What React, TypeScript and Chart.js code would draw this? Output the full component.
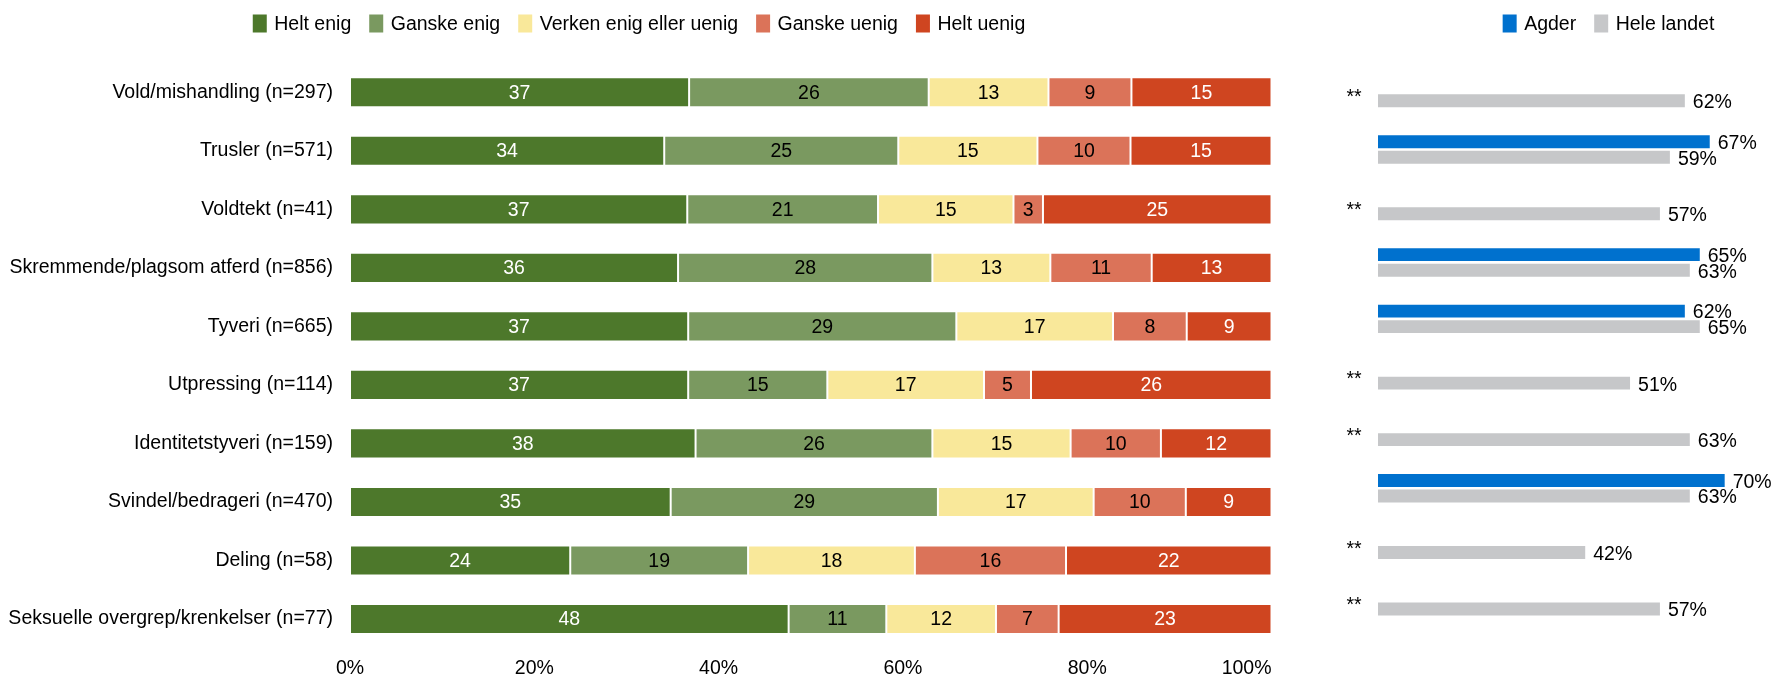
import React, { useEffect, useRef } from 'react';
import { Chart, registerables } from 'chart.js';

Chart.register(...registerables);

const FONT = '"Liberation Sans", Arial, sans-serif';
const FS = 19.5;

// ---------- data ----------
const categories = [
  'Vold/mishandling (n=297)',
  'Trusler (n=571)',
  'Voldtekt (n=41)',
  'Skremmende/plagsom atferd (n=856)',
  'Tyveri (n=665)',
  'Utpressing (n=114)',
  'Identitetstyveri (n=159)',
  'Svindel/bedrageri (n=470)',
  'Deling (n=58)',
  'Seksuelle overgrep/krenkelser (n=77)',
];

const seriesNames = ['Helt enig', 'Ganske enig', 'Verken enig eller uenig', 'Ganske uenig', 'Helt uenig'];
const heltEnig = [36.8, 34.1, 36.6, 35.6, 36.7, 36.7, 37.5, 34.8, 23.9, 47.6];
const ganskeEnig = [26.0, 25.4, 20.7, 27.6, 29.1, 15.1, 25.7, 29.0, 19.3, 10.6];
const verkenEnig = [13.0, 15.1, 14.7, 12.8, 17.0, 17.0, 15.0, 16.9, 18.1, 11.9];
const ganskeUenig = [9.0, 10.1, 3.2, 11.0, 8.0, 5.1, 9.8, 10.0, 16.4, 6.8];
const heltUenig = [15.2, 15.3, 24.8, 13.0, 9.2, 26.1, 12.0, 9.3, 22.3, 23.1];

const xTicks = [0, 20, 40, 60, 80, 100];

const compareNames = ['Agder', 'Hele landet'];
const agder = [null, 67, null, 65, 62, null, null, 70, null, null];
const heleLandet = [62, 59, 57, 63, 65, 51, 63, 63, 42, 57];
const sigMarks = ['**', '', '**', '', '', '**', '**', '', '**', '**'];

// ---------- styles ----------
const stackColors = ['#4D782B', '#7A9960', '#F9E89A', '#DB7359', '#CF4520'];
const stackTextColors = ['#FFFFFF', '#000000', '#000000', '#000000', '#FFFFFF'];
const compareColors = ['#0071CE', '#C6C7C9'];

const legendPlugin = {
  id: 'customLegend',
  afterDraw(chart: any, _args: any, opts: any) {
    const ctx = chart.ctx;
    ctx.save();
    ctx.font = `${FS}px ${FONT}`;
    const items = chart.data.datasets.map((d: any) => ({ label: d.label, color: d.backgroundColor }));
    const widths = items.map((it: any) => opts.boxW + opts.gap + ctx.measureText(it.label).width);
    const total = widths.reduce((a: number, b: number) => a + b, 0) + opts.itemGap * (items.length - 1);
    let x = opts.centerX - total / 2;
    items.forEach((it: any, i: number) => {
      ctx.fillStyle = it.color;
      ctx.fillRect(x, opts.y - opts.boxH / 2, opts.boxW, opts.boxH);
      ctx.fillStyle = '#000';
      ctx.textBaseline = 'middle';
      ctx.textAlign = 'left';
      ctx.fillText(it.label, x + opts.boxW + opts.gap, opts.y + 1);
      x += widths[i] + opts.itemGap;
    });
    ctx.restore();
  },
};

const stackLabelPlugin = {
  id: 'stackLabels',
  afterDatasetsDraw(chart: any) {
    const ctx = chart.ctx;
    ctx.save();
    ctx.font = `${FS}px ${FONT}`;
    ctx.textAlign = 'center';
    ctx.textBaseline = 'middle';
    chart.data.datasets.forEach((ds: any, di: number) => {
      const meta = chart.getDatasetMeta(di);
      meta.data.forEach((el: any, i: number) => {
        const v = ds.data[i];
        if (v == null) return;
        const p = el.getProps(['x', 'y', 'base'], true);
        ctx.fillStyle = stackTextColors[di];
        ctx.fillText(String(Math.round(v)), (p.x + p.base) / 2, p.y + 1);
      });
    });
    // x-axis tick labels, kept inside the plot's right edge
    const xs = chart.scales.x;
    ctx.fillStyle = '#000';
    xTicks.forEach((v) => {
      const label = `${v}%`;
      const w = ctx.measureText(label).width;
      let cx = xs.getPixelForValue(v);
      if (cx + w / 2 > chart.chartArea.right) cx = chart.chartArea.right - w / 2;
      ctx.fillText(label, cx, 668.5);
    });
    ctx.restore();
  },
};

const compareLabelPlugin = {
  id: 'compareLabels',
  afterDatasetsDraw(chart: any) {
    const ctx = chart.ctx;
    ctx.save();
    ctx.font = `${FS}px ${FONT}`;
    ctx.textBaseline = 'middle';
    ctx.textAlign = 'left';
    ctx.fillStyle = '#000';
    chart.data.datasets.forEach((ds: any, di: number) => {
      const meta = chart.getDatasetMeta(di);
      meta.data.forEach((el: any, i: number) => {
        const v = ds.data[i];
        if (v == null) return;
        const p = el.getProps(['x', 'y'], true);
        ctx.fillText(`${v}%`, p.x + 7, p.y + 2);
      });
    });
    const grayMeta = chart.getDatasetMeta(1);
    ctx.textBaseline = 'alphabetic';
    grayMeta.data.forEach((el: any, i: number) => {
      if (!sigMarks[i]) return;
      const p = el.getProps(['y'], true);
      ctx.fillText(sigMarks[i], 46.5, p.y + 2);
    });
    ctx.restore();
  },
};

export default function App() {
  const leftRef = useRef<HTMLCanvasElement>(null);
  const rightRef = useRef<HTMLCanvasElement>(null);

  useEffect(() => {
    Chart.defaults.font.family = FONT;
    Chart.defaults.font.size = FS;
    Chart.defaults.color = '#000';

    const stackData = [heltEnig, ganskeEnig, verkenEnig, ganskeUenig, heltUenig];
    const left = new Chart(leftRef.current as HTMLCanvasElement, {
      type: 'bar',
      data: {
        labels: categories,
        datasets: stackData.map((d, i) => ({
          label: seriesNames[i],
          data: d,
          backgroundColor: stackColors[i],
          borderColor: 'rgba(255,255,255,0.35)',
          borderWidth: 1,
          borderSkipped: false,
          barPercentage: 0.515,
          categoryPercentage: 1,
        })),
      },
      options: {
        indexAxis: 'y',
        responsive: false,
        animation: false,
        devicePixelRatio: 1,
        layout: { padding: { top: 63, right: 28.5, left: 0, bottom: 0 } },
        plugins: {
          legend: { display: false },
          tooltip: { enabled: false },
          customLegend: { centerX: 639, y: 23.5, boxW: 14, boxH: 18, gap: 7.5, itemGap: 18 },
        } as any,
        scales: {
          x: {
            stacked: true,
            min: 0,
            max: 100,
            ticks: { display: false, stepSize: 20 },
            grid: { display: false, drawTicks: false },
            border: { display: false },
            afterFit: (scale: any) => {
              scale.height = 24;
            },
          },
          y: {
            stacked: true,
            ticks: { padding: 17, color: '#000', font: { size: FS, family: FONT }, autoSkip: false },
            grid: { display: false, drawTicks: false },
            border: { display: false },
            afterFit: (scale: any) => {
              scale.width = 350;
            },
          },
        },
      },
      plugins: [legendPlugin, stackLabelPlugin],
    } as any);

    const right = new Chart(rightRef.current as HTMLCanvasElement, {
      type: 'bar',
      data: {
        labels: categories,
        datasets: [agder, heleLandet].map((d, i) => ({
          label: compareNames[i],
          data: d,
          backgroundColor: compareColors[i],
          borderColor: 'rgba(255,255,255,0.35)',
          borderWidth: 1,
          borderSkipped: false,
          barPercentage: 0.96,
          categoryPercentage: 0.55,
        })),
      },
      options: {
        indexAxis: 'y',
        responsive: false,
        animation: false,
        devicePixelRatio: 1,
        layout: { padding: { top: 64.75, right: 0, left: 77, bottom: 47.5 } },
        plugins: {
          legend: { display: false },
          tooltip: { enabled: false },
          customLegend: { centerX: 308.5, y: 23.5, boxW: 14, boxH: 18, gap: 7.5, itemGap: 18 },
        } as any,
        scales: {
          x: { min: 0, max: 79.5, display: false },
          y: { display: false },
        },
      },
      plugins: [legendPlugin, compareLabelPlugin],
    } as any);

    return () => {
      left.destroy();
      right.destroy();
    };
  }, []);

  return (
    <div style={{ position: 'fixed', left: 0, top: 0, width: 1773, height: 677, background: '#fff' }}>
      <canvas
        ref={leftRef}
        width={1300}
        height={677}
        style={{ position: 'absolute', left: 0, top: 0, width: 1300, height: 677 }}
      />
      <canvas
        ref={rightRef}
        width={473}
        height={677}
        style={{ position: 'absolute', left: 1300, top: 0, width: 473, height: 677 }}
      />
    </div>
  );
}
